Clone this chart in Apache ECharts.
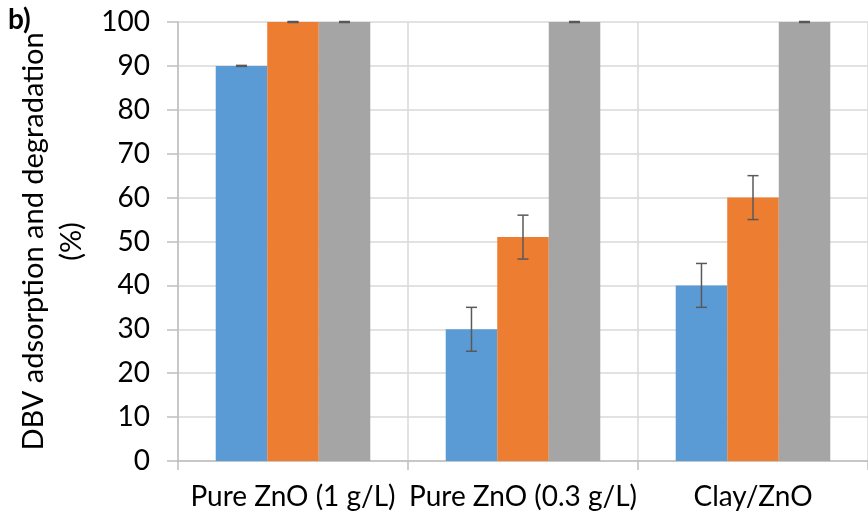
<!DOCTYPE html>
<html><head><meta charset="utf-8">
<script src="https://cdn.jsdelivr.net/npm/echarts@6/dist/echarts.min.js"></script>
<style>html,body{margin:0;padding:0;background:#fff}#c{width:868px;height:519px}</style>
</head><body><div id="c"></div>
<script>
const categories = ['Pure ZnO (1 g/L)', 'Pure ZnO (0.3 g/L)', 'Clay/ZnO'];
const blueValues = [90, 30, 40];
const blueErrors = [0, 5, 5];
const orangeValues = [100, 51, 60];
const orangeErrors = [0, 5, 5];
const grayValues = [100, 100, 100];
const grayErrors = [0, 0, 0];
const yTicks = [0, 10, 20, 30, 40, 50, 60, 70, 80, 90, 100];

const FONT = 'Lato';
const BAR_FRAC = 0.224;
const chart = echarts.init(document.getElementById('c'), null, {renderer: 'canvas'});

function errSeries(vals, errs, idx) {
  return {
    type: 'custom',
    z: 10,
    data: vals.map((v, i) => [i, v, errs[i]]),
    encode: {x: 0, y: 1},
    renderItem: function (params, api) {
      const ci = api.value(0), v = api.value(1), e = api.value(2);
      const band = api.size([1, 0])[0];
      const off = (idx - 1) * band * BAR_FRAC;
      const top = api.coord([ci, v + e]);
      const bot = api.coord([ci, v - e]);
      const x = top[0] + off;
      const cap = 5.5;
      const style = {stroke: '#595959', lineWidth: 1.5, fill: null};
      return {
        type: 'group',
        children: [
          {type: 'line', shape: {x1: x, y1: top[1], x2: x, y2: bot[1]}, style},
          {type: 'line', shape: {x1: x - cap, y1: top[1], x2: x + cap, y2: top[1]}, style: e === 0 ? {stroke: '#595959', lineWidth: 2.5} : style},
          {type: 'line', shape: {x1: x - cap, y1: bot[1], x2: x + cap, y2: bot[1]}, style}
        ]
      };
    }
  };
}

chart.setOption({
  animation: false,
  backgroundColor: '#fff',
  grid: {left: 178, top: 22, width: 696, height: 439, containLabel: false},
  graphic: [{type: 'text', left: 8, top: 6, style: {text: 'b)', font: 'bold 28px ' + FONT, fill: '#000'}}],
  xAxis: {
    type: 'category',
    data: categories,
    boundaryGap: true,
    axisLine: {show: true, lineStyle: {color: '#bfbfbf', width: 1.5}},
    axisTick: {show: true, length: 9, interval: 0, lineStyle: {color: '#bfbfbf', width: 1.5}},
    splitLine: {show: true, interval: 0, lineStyle: {color: '#d9d9d9', width: 1.5}},
    axisLabel: {color: '#000', fontFamily: FONT, fontSize: 28, margin: 22, interval: 0, hideOverlap: false}
  },
  yAxis: {
    type: 'value',
    min: 0, max: 100, interval: 10,
    name: 'DBV adsorption and degradation\n(%)',
    nameLocation: 'middle',
    nameGap: 80,
    nameRotate: 90,
    nameTextStyle: {color: '#000', fontFamily: FONT, fontSize: 29, lineHeight: 38},
    axisLine: {show: true, lineStyle: {color: '#bfbfbf', width: 1.5}},
    axisTick: {show: true, length: 11, lineStyle: {color: '#bfbfbf', width: 1.5}},
    splitLine: {show: true, lineStyle: {color: '#d9d9d9', width: 1.5}},
    axisLabel: {color: '#000', fontFamily: FONT, fontSize: 28, margin: 28,
      formatter: v => yTicks.includes(v) ? String(v) : ''}
  },
  series: [
    {type: 'bar', data: blueValues, barWidth: (BAR_FRAC * 100) + '%', barGap: '0%', itemStyle: {color: '#5B9BD5'}},
    {type: 'bar', data: orangeValues, barWidth: (BAR_FRAC * 100) + '%', barGap: '0%', itemStyle: {color: '#ED7D31'}},
    {type: 'bar', data: grayValues, barWidth: (BAR_FRAC * 100) + '%', barGap: '0%', itemStyle: {color: '#A5A5A5'}},
    errSeries(blueValues, blueErrors, 0),
    errSeries(orangeValues, orangeErrors, 1),
    errSeries(grayValues, grayErrors, 2)
  ]
});
</script></body></html>
